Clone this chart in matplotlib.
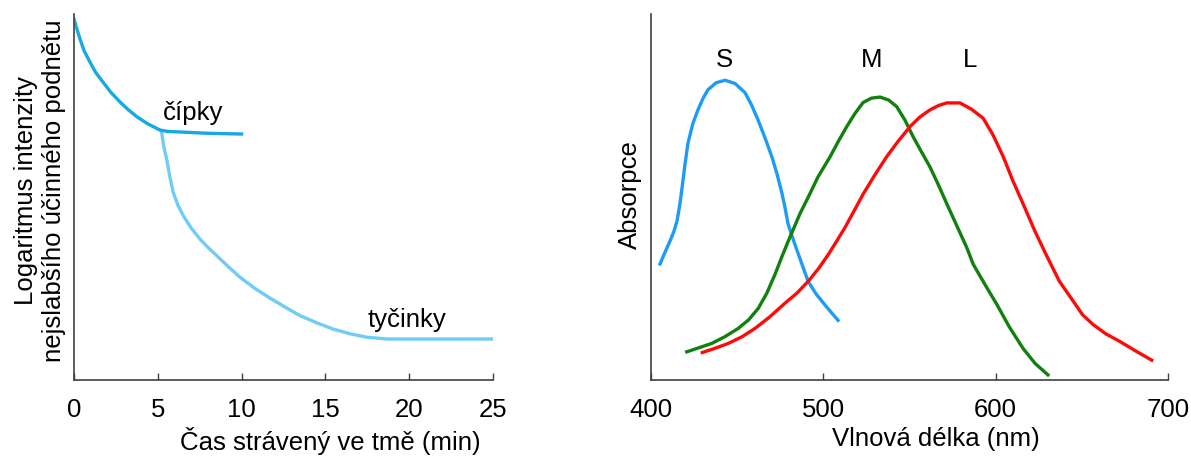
import numpy as np
import matplotlib.pyplot as plt

plt.rcParams['font.family'] = ['Liberation Sans', 'DejaVu Sans']

# levá část: adaptace na tmu
cas_cipky = [0, 0.2, 0.36, 0.6, 0.95, 1.3, 1.73, 2.2, 2.74, 3.2, 3.76, 4.4, 5.13, 5.6, 6.15, 8.0, 10.0]
int_cipky = [0.986, 0.955, 0.932, 0.900, 0.869, 0.840, 0.814, 0.786, 0.760, 0.740, 0.719, 0.700,
             0.683, 0.679, 0.678, 0.674, 0.672]
cas_tycinky = [5.23, 5.35, 5.53, 5.7, 5.92, 6.2, 6.52, 7.0, 7.52, 8.0, 8.51, 9.2, 9.9, 10.8, 11.69,
               12.6, 13.48, 14.5, 15.47, 16.5, 17.46, 18.66, 25.0]
int_tycinky = [0.677, 0.640, 0.604, 0.560, 0.513, 0.478, 0.449, 0.415, 0.385, 0.362, 0.340, 0.310,
               0.281, 0.250, 0.224, 0.199, 0.176, 0.156, 0.139, 0.126, 0.117, 0.112, 0.112]

# pravá část: absorpční spektra čípků
nm_s = [405.5, 408.5, 411.3, 413.5, 415.4, 417, 418.3, 420, 421.7, 424.5, 427.5, 430.5, 433.3, 438,
        443.2, 449, 454.8, 458.5, 462.3, 466.5, 470.4, 473.5, 476.2, 478, 479.7, 483, 486, 491.3,
        496, 502, 508.7]
abs_s = [0.317, 0.350, 0.380, 0.405, 0.435, 0.480, 0.526, 0.590, 0.647, 0.700, 0.738, 0.770, 0.793,
         0.812, 0.819, 0.810, 0.785, 0.752, 0.711, 0.660, 0.609, 0.560, 0.510, 0.470, 0.427, 0.380,
         0.340, 0.270, 0.235, 0.200, 0.163]
nm_m = [421, 428, 435.5, 443, 450.9, 457, 462.5, 467.5, 472.2, 476, 479.9, 486.7, 492, 497.1, 504.1,
        509, 513.7, 518.5, 523.2, 528, 533, 538, 542.7, 547.5, 552.2, 557, 562, 567, 571.7, 577.5,
        583.3, 587.1, 594, 600.7, 608, 616, 623, 630.4]
abs_m = [0.077, 0.088, 0.100, 0.118, 0.141, 0.165, 0.196, 0.238, 0.289, 0.335, 0.380, 0.455, 0.505,
         0.555, 0.610, 0.653, 0.692, 0.728, 0.758, 0.770, 0.773, 0.765, 0.747, 0.710, 0.665, 0.624,
         0.582, 0.532, 0.482, 0.422, 0.362, 0.316, 0.260, 0.207, 0.145, 0.086, 0.045, 0.014]
nm_l = [430, 437, 445.1, 453, 460.6, 469, 478, 485, 491.5, 497.5, 503.1, 508, 512.8, 518, 523.4, 530,
        536.9, 543.5, 550.4, 556, 562, 567, 571.7, 579.4, 586, 592.9, 598.5, 604.5, 610, 616.1, 623,
        629.7, 637, 645.1, 650.5, 656.7, 664, 672.2, 681, 690.6]
abs_l = [0.075, 0.086, 0.100, 0.118, 0.141, 0.172, 0.210, 0.238, 0.270, 0.305, 0.343, 0.380, 0.417,
         0.462, 0.509, 0.560, 0.610, 0.652, 0.692, 0.718, 0.738, 0.750, 0.757, 0.757, 0.740, 0.715,
         0.670, 0.610, 0.545, 0.480, 0.405, 0.339, 0.270, 0.215, 0.178, 0.151, 0.126, 0.105, 0.080,
         0.054]
popisky = ['S', 'M', 'L']
popisky_x = [443, 528, 585.5]

fs = 18.5
fig = plt.figure(figsize=(11.91, 4.64), dpi=100)
ax1 = fig.add_axes([0.0621, 0.1789, 0.3518, 0.7888])
ax2 = fig.add_axes([0.5462, 0.1789, 0.4345, 0.7888])

for ax in (ax1, ax2):
    for s in ['top', 'right']:
        ax.spines[s].set_visible(False)
    for s in ['left', 'bottom']:
        ax.spines[s].set_color('#404040')
        ax.spines[s].set_linewidth(1.2)
    ax.set_yticks([])
    ax.tick_params(axis='x', direction='in', length=5, width=1, color='#404040',
                   labelsize=fs, pad=12)
    ax.set_ylim(0, 1)

ax1.plot(cas_tycinky, int_tycinky, color='#6fcdf5', lw=2.4, solid_joinstyle='round')
ax1.plot(cas_cipky, int_cipky, color='#18a8e4', lw=2.4, solid_joinstyle='round')
ax1.set_xlim(0, 25)
ax1.set_xticks([0, 5, 10, 15, 20, 25])
ax1.text(7.1, 0.70, 'čípky', fontsize=fs, ha='center', va='bottom')
ax1.text(19.9, 0.135, 'tyčinky', fontsize=fs, ha='center', va='bottom')
ax1.set_xlabel('Čas strávený ve tmě (min)', fontsize=fs)
ax1.xaxis.set_label_coords(0.613, -0.125)
ax1.set_ylabel('Logaritmus intenzity\nnejslabšího účinného podnětu', fontsize=fs,
               linespacing=1.25)
ax1.yaxis.set_label_coords(-0.018, 0.52)

ax2.plot(nm_s, abs_s, color='#1e9bf5', lw=2.4, solid_joinstyle='round')
ax2.plot(nm_m, abs_m, color='#12800f', lw=2.4, solid_joinstyle='round')
ax2.plot(nm_l, abs_l, color='#ff0a0a', lw=2.4, solid_joinstyle='round')
ax2.set_xlim(400, 700)
ax2.set_xticks([400, 500, 600, 700])
for t, x in zip(popisky, popisky_x):
    ax2.text(x, 0.845, t, fontsize=fs, ha='center', va='bottom')
ax2.set_xlabel('Vlnová délka (nm)', fontsize=fs)
ax2.xaxis.set_label_coords(0.552, -0.125)
ax2.set_ylabel('Absorpce', fontsize=fs)
ax2.yaxis.set_label_coords(-0.016, 0.51)

fig.savefig('out.png', dpi=100)
